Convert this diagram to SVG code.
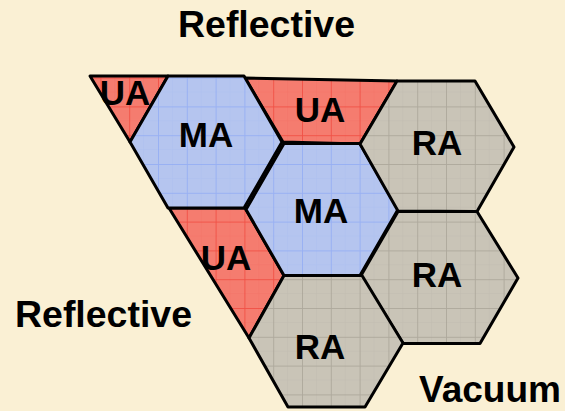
<svg xmlns="http://www.w3.org/2000/svg" width="565" height="411" viewBox="0 0 565 411">
  <defs>
    <style>
      .cell { stroke: #000; stroke-width: 3; stroke-linejoin: round; }
      .ua { fill: url(#gridRed); }
      .ma { fill: url(#gridBlue); }
      .ra { fill: url(#gridGray); }
      .lbl { font-family: "Liberation Sans", Arial, sans-serif; font-weight: bold; font-size: 35px; fill: #000; text-anchor: middle; }
      .side { font-family: "Liberation Sans", Arial, sans-serif; font-weight: bold; font-size: 36px; fill: #000; }
    </style>
    <!-- graph-paper fills: base colour, faint minor lines, stronger major lines -->
    <pattern id="gridRed" patternUnits="userSpaceOnUse" x="14" y="20" width="28.8" height="28.8">
      <rect width="28.8" height="28.8" fill="#F57C6F"/>
      <path d="M14.4 0V28.8M0 14.4H28.8" stroke="#F06458" stroke-width="0.6" opacity="0.35"/>
      <path d="M0.5 0V28.8M0 0.5H28.8" stroke="#EF453B" stroke-width="0.9" opacity="0.8"/>
    </pattern>
    <pattern id="gridBlue" patternUnits="userSpaceOnUse" x="14" y="20" width="28.8" height="28.8">
      <rect width="28.8" height="28.8" fill="#B5C5EF"/>
      <path d="M14.4 0V28.8M0 14.4H28.8" stroke="#A2B7F2" stroke-width="0.6" opacity="0.35"/>
      <path d="M0.5 0V28.8M0 0.5H28.8" stroke="#8FAAF4" stroke-width="0.9" opacity="0.8"/>
    </pattern>
    <pattern id="gridGray" patternUnits="userSpaceOnUse" x="14" y="20" width="28.8" height="28.8">
      <rect width="28.8" height="28.8" fill="#C9C4B7"/>
      <path d="M14.4 0V28.8M0 14.4H28.8" stroke="#B6B1A5" stroke-width="0.6" opacity="0.35"/>
      <path d="M0.5 0V28.8M0 0.5H28.8" stroke="#A6A195" stroke-width="0.9" opacity="0.8"/>
    </pattern>
  </defs>

  <!-- parchment background -->
  <rect width="565" height="411" fill="#FAF0D4"/>

  <!-- red border cells -->
  <g id="ua-top-left">
    <polygon class="cell ua" points="90,76 168,76 130,142"/>
    <text class="lbl" x="125" y="105">UA</text>
  </g>
  <g id="ua-top-middle">
    <polygon class="cell ua" points="245,78 397,81 360,144 283,142"/>
    <text class="lbl" x="320" y="122">UA</text>
  </g>
  <g id="ua-lower-left">
    <polygon class="cell ua" points="169,208 245,208 284,275.5 249,338"/>
    <text class="lbl" x="226" y="270">UA</text>
  </g>

  <!-- blue cells -->
  <g id="ma-upper">
    <polygon class="cell ma" points="130,142 168,76 244,76 282,142 244,208 168,208"/>
    <text class="lbl" x="206" y="147">MA</text>
  </g>
  <g id="ma-centre">
    <polygon class="cell ma" points="246,209.5 284,143.5 360,143.5 398,209.5 360,275.5 284,275.5"/>
    <text class="lbl" x="321" y="223">MA</text>
  </g>

  <!-- grey cells -->
  <g id="ra-upper">
    <polygon class="cell ra" points="360,144 397,81 475,81 514,147 477,211.5 398,211"/>
    <text class="lbl" x="437" y="155">RA</text>
  </g>
  <g id="ra-right">
    <polygon class="cell ra" points="361,275.5 398,211.5 477,211.5 518,278 480,343.5 403,343.5"/>
    <text class="lbl" x="437" y="287">RA</text>
  </g>
  <g id="ra-bottom">
    <polygon class="cell ra" points="249,338 284,275.5 362,275.5 403,343 365,407 288,407"/>
    <text class="lbl" x="320" y="359">RA</text>
  </g>

  <!-- boundary conditions -->
  <g id="boundary-labels">
    <text class="side" x="178" y="37" textLength="177" lengthAdjust="spacingAndGlyphs">Reflective</text>
    <text class="side" x="15" y="327" textLength="177" lengthAdjust="spacingAndGlyphs">Reflective</text>
    <text class="side" x="419" y="402" textLength="142" lengthAdjust="spacingAndGlyphs">Vacuum</text>
  </g>
</svg>
